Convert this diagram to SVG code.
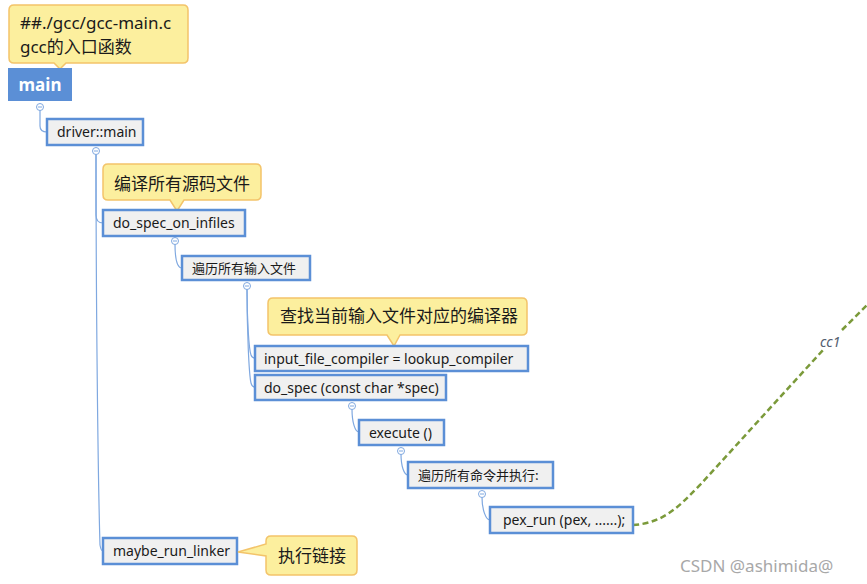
<svg xmlns="http://www.w3.org/2000/svg" width="867" height="584" viewBox="0 0 867 584">
<style>
.box{fill:#F0F0F0;stroke:#5B8FD6;stroke-width:2.5}
.t{font-family:"Noto Sans","Noto Sans CJK SC",sans-serif;font-size:14px;fill:#1a1a1a}
.tc{font-family:"Noto Sans CJK SC","Noto Sans",sans-serif;font-size:13px;fill:#1a1a1a}
.note{fill:#FCEF9E;stroke:#F3C46A;stroke-width:1.5}
.nt{font-family:"Noto Sans","Noto Sans CJK SC",sans-serif;font-size:17px;fill:#1a1a1a}
.ln{fill:none;stroke:#7FA8E0;stroke-width:1.2}
.cb{fill:#fff;stroke:#7FA8E0;stroke-width:1}
.cm{stroke:#7FA8E0;stroke-width:1}
.dash{fill:none;stroke:#7B9A3A;stroke-width:2.5;stroke-dasharray:6,3.5}
</style>
<rect width="867" height="584" fill="#fff"/>
<g id="connectors">
<path class="ln" d="M40,110 V126 Q40,132 47,132"/>
<path class="ln" d="M96,154 V215 Q96,223 103,223"/>
<path class="ln" d="M96,154 C96,300 98,480 100,545 Q101,551 103,551"/>
<path class="ln" d="M175,244 C175,258 177,268 182,268"/>
<path class="ln" d="M247,289 C247,320 249,350 251,355 Q252,358 255,358"/>
<path class="ln" d="M247,289 C247,330 249,375 251,383 Q252,387 255,387"/>
<path class="ln" d="M352,409 C352,422 355,432 359,432"/>
<path class="ln" d="M401,454 C401,466 404,475 408,475"/>
<path class="ln" d="M482,497 C482,510 486,520 490,520"/>
<path class="dash" d="M633,525 C665,523 680,505 700,485 L823,350"/>
<path class="dash" d="M842,330 L867,305"/>
<text x="820" y="347" font-family="Noto Sans, sans-serif" font-size="14" font-style="italic" fill="#556070">cc1</text>
</g>
<g id="collapse">
<circle class="cb" cx="40" cy="107" r="3.5"/><line class="cm" x1="38" y1="107" x2="42" y2="107"/>
<circle class="cb" cx="96" cy="151" r="3.5"/><line class="cm" x1="94" y1="151" x2="98" y2="151"/>
<circle class="cb" cx="175" cy="241" r="3.5"/><line class="cm" x1="173" y1="241" x2="177" y2="241"/>
<circle class="cb" cx="247" cy="286" r="3.5"/><line class="cm" x1="245" y1="286" x2="249" y2="286"/>
<circle class="cb" cx="352" cy="406" r="3.5"/><line class="cm" x1="350" y1="406" x2="354" y2="406"/>
<circle class="cb" cx="401" cy="451" r="3.5"/><line class="cm" x1="399" y1="451" x2="403" y2="451"/>
<circle class="cb" cx="482" cy="494" r="3.5"/><line class="cm" x1="480" y1="494" x2="484" y2="494"/>
</g>
<g id="note-main">
<path class="note" d="M14,5 H183 Q188,5 188,10 V58 Q188,63 183,63 H66 L60,69 L54,63 H14 Q9,63 9,58 V10 Q9,5 14,5 Z"/>
<text class="nt" x="20" y="29">##./gcc/gcc-main.c</text>
<text class="nt" x="20" y="53">gcc的入口函数</text>
</g>
<g id="main">
<rect x="8" y="68" width="64" height="33" fill="#5B8FD6"/>
<text x="40" y="91" text-anchor="middle" font-family="Noto Sans, sans-serif" font-size="17" font-weight="bold" fill="#fff">main</text>
</g>
<g id="driver-main">
<rect class="box" x="47" y="119" width="96" height="26"/>
<text class="t" x="57" y="137">driver::main</text>
</g>
<g id="note-infiles">
<path class="note" d="M108,164 H256 Q261,164 261,169 V195 Q261,200 256,200 H184 L177,211 L170,200 H108 Q103,200 103,195 V169 Q103,164 108,164 Z"/>
<text class="nt" x="114" y="190">编译所有源码文件</text>
</g>
<g id="do-spec-on-infiles">
<rect class="box" x="103" y="210" width="142" height="26"/>
<text class="t" x="113" y="228">do_spec_on_infiles</text>
</g>
<g id="iterate-inputs">
<rect class="box" x="182" y="256" width="128" height="24"/>
<text class="tc" x="192" y="273">遍历所有输入文件</text>
</g>
<g id="note-lookup">
<path class="note" d="M273,298 H522 Q527,298 527,303 V330 Q527,335 522,335 H400 L394,346 L387,335 H273 Q268,335 268,330 V303 Q268,298 273,298 Z"/>
<text class="nt" x="280" y="322">查找当前输入文件对应的编译器</text>
</g>
<g id="lookup-compiler">
<rect class="box" x="255" y="346" width="273" height="25"/>
<text class="t" x="264" y="364">input_file_compiler = lookup_compiler</text>
</g>
<g id="do-spec">
<rect class="box" x="255" y="375" width="191" height="25"/>
<text class="t" x="264" y="393">do_spec (const char *spec)</text>
</g>
<g id="execute">
<rect class="box" x="359" y="420" width="85" height="25"/>
<text class="t" x="369" y="438">execute ()</text>
</g>
<g id="iterate-commands">
<rect class="box" x="408" y="462" width="145" height="26"/>
<text class="tc" x="418" y="480">遍历所有命令并执行:</text>
</g>
<g id="pex-run">
<rect class="box" x="490" y="507" width="143" height="26"/>
<text class="t" x="503" y="525">pex_run (pex, ......);</text>
</g>
<g id="maybe-run-linker">
<rect class="box" x="103" y="538" width="134" height="26"/>
<text class="t" x="113" y="556">maybe_run_linker</text>
</g>
<g id="note-linker">
<path class="note" d="M271,536 H352 Q357,536 357,541 V570 Q357,575 352,575 H271 Q266,575 266,570 V556 L238,552 L266,544 V541 Q266,536 271,536 Z"/>
<text class="nt" x="278" y="562">执行链接</text>
</g>
<text x="680" y="572" font-family="Noto Sans, Noto Sans CJK SC, sans-serif" font-size="17" fill="#A8A8A8">CSDN @ashimida@</text>
</svg>
